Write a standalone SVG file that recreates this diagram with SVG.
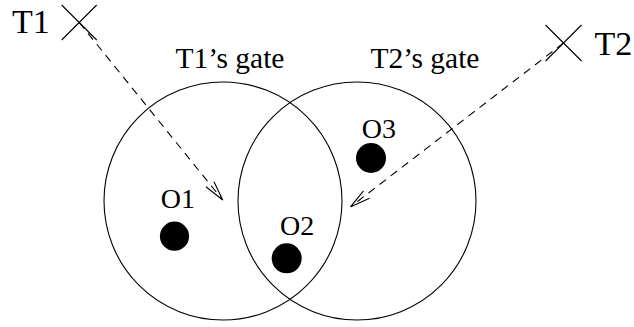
<svg xmlns="http://www.w3.org/2000/svg" width="634" height="327" viewBox="0 0 634 327">
<style>
  .ln { fill: none; stroke: #000; stroke-width: 1.1; }
  .dash { fill: none; stroke: #000; stroke-width: 1.1; stroke-dasharray: 8 6; }
  .dot { fill: #000; }
  text { font-family: 'Liberation Serif', 'Times New Roman', serif; fill: #000; }
  .big { font-size: 34px; }
  .gate { font-size: 29.5px; }
  .lbl { font-size: 28px; }
</style>
<rect width="634" height="327" fill="#fff"/>
<g id="gate1">
  <circle class="ln" cx="223" cy="201" r="119"/>
  <text class="gate" x="175.5" y="68">T1’s gate</text>
</g>
<g id="gate2">
  <circle class="ln" cx="357" cy="201" r="119"/>
  <text class="gate" x="370.5" y="68">T2’s gate</text>
</g>
<g id="T1">
  <path class="ln" d="M61.7 5 L96.7 40 M96.7 5 L61.7 40"/>
  <text class="big" x="12" y="33">T1</text>
</g>
<g id="T2">
  <path class="ln" d="M545.5 25 L581.5 61 M581.5 25 L545.5 61"/>
  <text class="big" x="594.5" y="55">T2</text>
</g>
<g id="O1">
  <circle class="dot" cx="174.5" cy="236.2" r="14.6"/>
  <text class="lbl" x="160.7" y="208.3">O1</text>
</g>
<g id="O2">
  <circle class="dot" cx="286.7" cy="258.3" r="15"/>
  <text class="lbl" x="280" y="234.5">O2</text>
</g>
<g id="O3">
  <circle class="dot" cx="371" cy="158" r="15"/>
  <text class="lbl" x="361.7" y="137.5">O3</text>
</g>
<g id="connectors">
  <path class="dash" d="M79.2 22.5 L222.7 200"/>
  <path class="ln" d="M206 186.7 L222.7 200 L214 181.7"/>
  <path class="dash" d="M563.5 43 L350.7 206.7"/>
  <path class="ln" d="M363.5 190.8 L350.7 206.7 L369.5 198.2"/>
</g>
</svg>
